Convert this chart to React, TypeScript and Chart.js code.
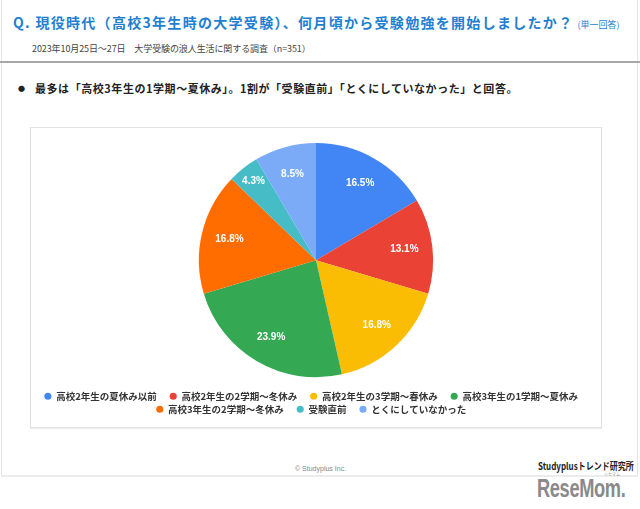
import React, { useEffect, useRef } from 'react';
import { Chart, registerables } from 'chart.js';

Chart.register(...registerables);

const categories = [
  '高校2年生の夏休み以前',
  '高校2年生の2学期～冬休み',
  '高校2年生の3学期～春休み',
  '高校3年生の1学期～夏休み',
  '高校3年生の2学期～冬休み',
  '受験直前',
  'とくにしていなかった',
];
const percentages = [16.5, 13.1, 16.8, 23.9, 16.8, 4.3, 8.5];
const sliceColors = ['#4285F4', '#EA4335', '#FBBC04', '#34A853', '#FF6D01', '#46BDC6', '#7BAAF7'];

const TITLE = 'Q. 現役時代（高校3年生時の大学受験）、何月頃から受験勉強を開始しましたか？';
const TITLE_NOTE = '(単一回答)';
const SUBTITLE = '2023年10月25日～27日　大学受験の浪人生活に関する調査（n=351）';
const BULLET = '最多は「高校3年生の1学期～夏休み」。1割が「受験直前」「とくにしていなかった」と回答。';

const CJK = '"Noto Sans CJK JP", "Noto Sans", sans-serif';

const pctLabels = {
  id: 'pctLabels',
  afterDatasetsDraw(chart: any) {
    const ctx = chart.ctx;
    const meta = chart.getDatasetMeta(0);
    ctx.save();
    ctx.fillStyle = '#ffffff';
    ctx.font = 'bold 10px "Liberation Sans", Arial, sans-serif';
    ctx.textAlign = 'center';
    ctx.textBaseline = 'middle';
    meta.data.forEach((arc: any, i: number) => {
      const p = arc.getProps(['x', 'y', 'startAngle', 'endAngle', 'outerRadius'], true);
      const mid = (p.startAngle + p.endAngle) / 2;
      const v = percentages[i];
      const f = v < 5 ? 0.86 : 0.76;
      ctx.fillText(v.toFixed(1) + '%', p.x + Math.cos(mid) * p.outerRadius * f, p.y + Math.sin(mid) * p.outerRadius * f);
    });
    ctx.restore();
  },
};

function PieChart() {
  const ref = useRef<HTMLCanvasElement | null>(null);
  useEffect(() => {
    if (!ref.current) return;
    const chart = new Chart(ref.current, {
      type: 'pie',
      data: {
        labels: categories,
        datasets: [
          {
            data: percentages,
            backgroundColor: sliceColors,
            borderWidth: 0,
          },
        ],
      },
      options: {
        animation: false,
        responsive: false,
        devicePixelRatio: 1,
        layout: { padding: { top: 15, bottom: 3, left: 0, right: 0 } },
        plugins: {
          tooltip: { enabled: false },
          legend: {
            position: 'bottom',
            title: { display: true, text: '', font: { size: 1, lineHeight: 1 }, padding: { top: 9.75, bottom: 0 } },
            labels: {
              usePointStyle: true,
              boxWidth: 7,
              boxHeight: 5,
              padding: 3.5,
              color: '#333333',
              font: { family: CJK, size: 9.5, weight: 'bold' },
              generateLabels: () =>
                categories.map((c, i) => ({
                  text: c + '\u3000',
                  fillStyle: sliceColors[i],
                  strokeStyle: sliceColors[i],
                  lineWidth: 0,
                  pointStyle: 'circle',
                  hidden: false,
                  index: i,
                  fontColor: '#333333',
                })),
            },
          },
        },
      } as any,
      plugins: [pctLabels],
    });
    return () => chart.destroy();
  }, []);
  return <canvas ref={ref} width={570} height={299} style={{ display: 'block' }} />;
}

export default function App() {
  const abs = (s: React.CSSProperties): React.CSSProperties => ({ position: 'absolute', ...s });
  return (
    <div style={{ position: 'absolute', left: 0, top: 0, width: 640, height: 509, background: '#ffffff', overflow: 'hidden', fontFamily: CJK }}>
      {/* outer frame */}
      <div style={abs({ left: 1, top: -2, width: 635, height: 477, borderLeft: '1px solid #e4e4e4', borderRight: '1px solid #e4e4e4', borderBottom: '2px solid #ececec' })} />
      {/* title */}
      <div style={abs({ left: 13, top: 12, whiteSpace: 'nowrap', color: '#1f7fd0', fontWeight: 'bold', fontSize: 14, lineHeight: '20px', letterSpacing: 1.3 })}>
        {TITLE}
        <span style={{ fontSize: 9, fontWeight: 'normal', letterSpacing: 0, marginLeft: 4 }}>{TITLE_NOTE}</span>
      </div>
      {/* subtitle */}
      <div style={abs({ left: 32, top: 42, whiteSpace: 'nowrap', color: '#444444', fontSize: 9, lineHeight: '14px', letterSpacing: -0.1 })}>{SUBTITLE}</div>
      {/* rule */}
      <div style={abs({ left: 0, top: 61, width: 640, height: 2, background: '#a8a8a8' })} />
      {/* bullet */}
      <div style={abs({ left: 18, top: 81, whiteSpace: 'nowrap', color: '#222222', fontSize: 7, lineHeight: '14px' })}>●</div>
      <div style={abs({ left: 35, top: 80, whiteSpace: 'nowrap', color: '#222222', fontSize: 11, fontWeight: 'bold', lineHeight: '16px', letterSpacing: 0.55 })}>{BULLET}</div>
      {/* chart box */}
      <div style={abs({ left: 30, top: 127, width: 570, height: 299, border: '1px solid #e2e2e2', boxShadow: '0 1px 1px #eeeeee' })}>
        <PieChart />
      </div>
      {/* footer */}
      <div style={abs({ left: 295, top: 463, whiteSpace: 'nowrap', color: '#888888', fontSize: 7, lineHeight: '12px', fontFamily: '"Liberation Sans", Arial, sans-serif' })}>© Studyplus Inc.</div>
      <div style={abs({ left: 538, top: 459, whiteSpace: 'nowrap', color: '#222222', fontSize: 10, fontWeight: 'bold', lineHeight: '14px', transform: 'scaleX(0.8)', transformOrigin: '0 0' })}>Studyplusトレンド研究所</div>
      <div style={abs({ left: 604, top: 472, whiteSpace: 'nowrap', color: '#999999', fontSize: 4, lineHeight: '5px' })}>リセマム</div>
      <div style={abs({ left: 537, top: 474, whiteSpace: 'nowrap', color: '#8a8a8a', fontSize: 25, fontWeight: 'bold', lineHeight: '28px', letterSpacing: -0.5, fontFamily: '"Liberation Sans", Arial, sans-serif', transform: 'scaleX(0.73)', transformOrigin: '0 0' })}>ReseMom.</div>
    </div>
  );
}
